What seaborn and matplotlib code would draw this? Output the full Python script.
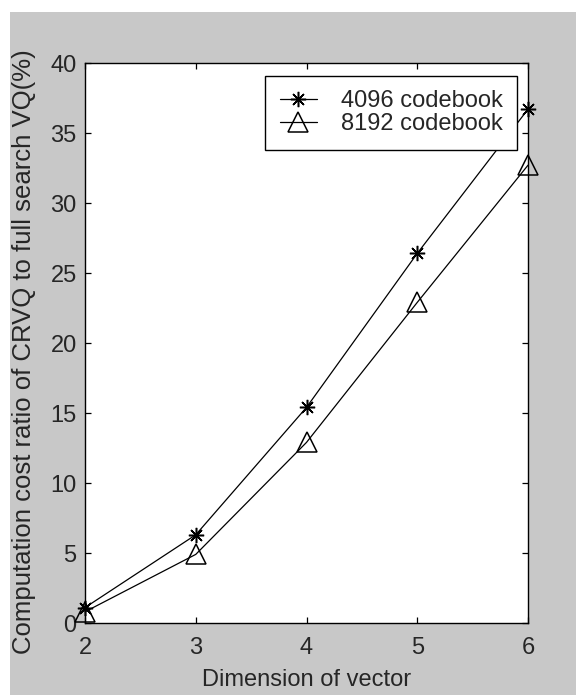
import pandas as pd
import matplotlib
matplotlib.use("Agg")
import matplotlib.pyplot as plt
from matplotlib.patches import Rectangle
import seaborn as sns

# Data
dims = [2, 3, 4, 5, 6]
cb4096 = [1.1, 6.3, 15.4, 26.4, 36.7]
cb8192 = [0.8, 4.9, 12.9, 22.9, 32.7]
series_names = ["4096 codebook", "8192 codebook"]
x_ticks = [2, 3, 4, 5, 6]
y_ticks = [0, 5, 10, 15, 20, 25, 30, 35, 40]

df = pd.DataFrame({
    "dim": dims * 2,
    "ratio": cb4096 + cb8192,
    "series": [series_names[0]] * len(dims) + [series_names[1]] * len(dims),
})

sns.set_style("ticks")
plt.rcParams["font.family"] = ["Liberation Sans", "DejaVu Sans"]

fig = plt.figure(figsize=(5.76, 6.95), dpi=100)
fig.patch.set_facecolor("white")
# MATLAB-like grey figure area (thin white margin top/left as in the scan)
fig.patches.append(Rectangle((10 / 576, 0), 1, (695 - 12) / 695,
                             transform=fig.transFigure, facecolor="#c8c8c8",
                             edgecolor="none", zorder=-10))
ax = fig.add_axes([85 / 576, 72 / 695, 443 / 576, 560 / 695])
ax.set_facecolor("white")

sns.lineplot(data=df[df["series"] == series_names[0]], x="dim", y="ratio",
             ax=ax, color="black", lw=0.9, marker=(8, 2, 0), markersize=11,
             markeredgecolor="black", markeredgewidth=1.1,
             label=series_names[0], clip_on=False)
sns.lineplot(data=df[df["series"] == series_names[1]], x="dim", y="ratio",
             ax=ax, color="black", lw=0.9, marker="^", markersize=14,
             markerfacecolor="none", markeredgecolor="black",
             markeredgewidth=1.1, label=series_names[1], clip_on=False)

ax.set_xlim(2, 6)
ax.set_ylim(0, 40)
ax.set_xticks(x_ticks)
ax.set_yticks(y_ticks)
ax.tick_params(direction="in", length=4.5, width=0.9, color="black",
               labelsize=17, top=True, right=True)
ax.tick_params(axis="x", pad=10)
ax.tick_params(axis="y", pad=6)
for s in ax.spines.values():
    s.set_color("black")
    s.set_linewidth(1.0)

ax.set_xlabel("Dimension of vector", fontsize=17, labelpad=7)
ax.set_ylabel("Computation cost ratio of CRVQ to full search VQ(%)", fontsize=18.5)
ax.yaxis.set_label_coords(-0.11, 0.484)

leg = ax.legend(loc="upper right", bbox_to_anchor=(1 - 11 / 443, 1 - 13 / 560),
                fontsize=17, frameon=True, fancybox=False, framealpha=1,
                edgecolor="black", borderpad=0.6, handlelength=1.6,
                handletextpad=1.0, labelspacing=0.05, borderaxespad=0)
leg.get_frame().set_linewidth(1.0)

fig.savefig("out.png", dpi=100, facecolor=fig.get_facecolor())
